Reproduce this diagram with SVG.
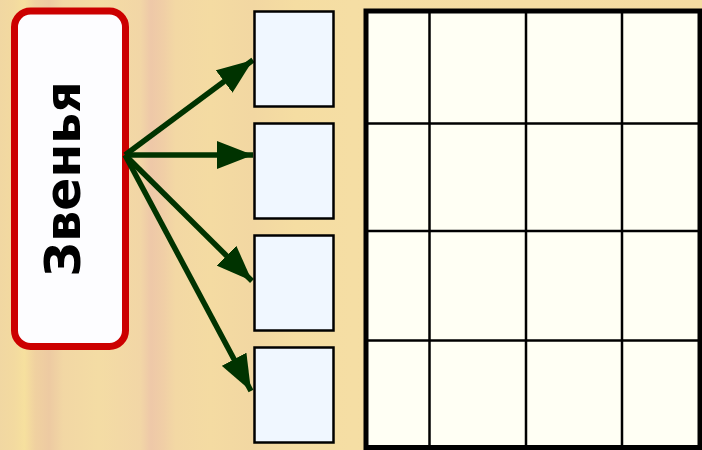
<svg xmlns="http://www.w3.org/2000/svg" width="702" height="450" viewBox="0 0 702 450">
  <defs>
    <!-- light wood grain backdrop -->
    <linearGradient id="wood" x1="0" y1="0" x2="702" y2="0" gradientUnits="userSpaceOnUse">
      <stop offset="0" stop-color="#f1d7a2"/>
      <stop offset="0.02" stop-color="#f3daa0"/>
      <stop offset="0.035" stop-color="#f6e09e"/>
      <stop offset="0.05" stop-color="#f0d1a0"/>
      <stop offset="0.07" stop-color="#edcaa2"/>
      <stop offset="0.09" stop-color="#f2d7a4"/>
      <stop offset="0.14" stop-color="#f4dca4"/>
      <stop offset="0.2" stop-color="#f2d6a6"/>
      <stop offset="0.215" stop-color="#eec8a8"/>
      <stop offset="0.232" stop-color="#f0cea6"/>
      <stop offset="0.25" stop-color="#f3d8a4"/>
      <stop offset="0.3" stop-color="#f4dba2"/>
      <stop offset="0.36" stop-color="#f2d7a2"/>
      <stop offset="0.42" stop-color="#f5dda2"/>
      <stop offset="0.5" stop-color="#f5dea4"/>
      <stop offset="1" stop-color="#f5dca2"/>
    </linearGradient>
    <marker id="arrow" viewBox="0 0 36 28" refX="36" refY="14" markerWidth="36" markerHeight="28" markerUnits="userSpaceOnUse" orient="auto">
      <path d="M0,0 L36,14 L0,28 z" fill="#003300"/>
    </marker>
    <style>
      .slot { fill: #f0f7ff; stroke: #000; stroke-width: 2.5; }
      .link { stroke: #003300; stroke-width: 5.5; fill: none; marker-end: url(#arrow); }
      .grid { stroke: #000; stroke-width: 2.5; }
    </style>
  </defs>

  <rect x="0" y="0" width="702" height="450" fill="url(#wood)"/>

  <!-- title card -->
  <g id="title">
    <rect x="14.5" y="11" width="111" height="335.5" rx="16" ry="16" fill="#fdfdff" stroke="#cc0000" stroke-width="7"/>
    <text transform="translate(80,179) rotate(-90)" text-anchor="middle" font-family="DejaVu Sans, sans-serif" font-weight="bold" font-size="49" fill="#000">Звенья</text>
  </g>

  <!-- connectors from title to slots -->
  <g id="links">
    <line class="link" x1="125" y1="155" x2="253" y2="60"/>
    <line class="link" x1="125" y1="155" x2="253" y2="155"/>
    <line class="link" x1="125" y1="155" x2="252" y2="281"/>
    <line class="link" x1="125" y1="155" x2="251" y2="391"/>
  </g>

  <!-- empty slots -->
  <g id="slot1"><rect class="slot" x="254.5" y="11.5" width="79" height="95"/></g>
  <g id="slot2"><rect class="slot" x="254.5" y="123.5" width="79" height="95"/></g>
  <g id="slot3"><rect class="slot" x="254.5" y="235.5" width="79" height="95"/></g>
  <g id="slot4"><rect class="slot" x="254.5" y="347.5" width="79" height="95"/></g>

  <!-- 4x4 table -->
  <g id="table">
    <rect x="366" y="11" width="334" height="436.5" fill="#fffff4" stroke="#000" stroke-width="5"/>
    <line class="grid" x1="429.5" y1="13" x2="429.5" y2="446"/>
    <line class="grid" x1="526" y1="13" x2="526" y2="446"/>
    <line class="grid" x1="622" y1="13" x2="622" y2="446"/>
    <line class="grid" x1="368" y1="123.5" x2="699" y2="123.5"/>
    <line class="grid" x1="368" y1="231" x2="699" y2="231"/>
    <line class="grid" x1="368" y1="340.5" x2="699" y2="340.5"/>
  </g>
</svg>
